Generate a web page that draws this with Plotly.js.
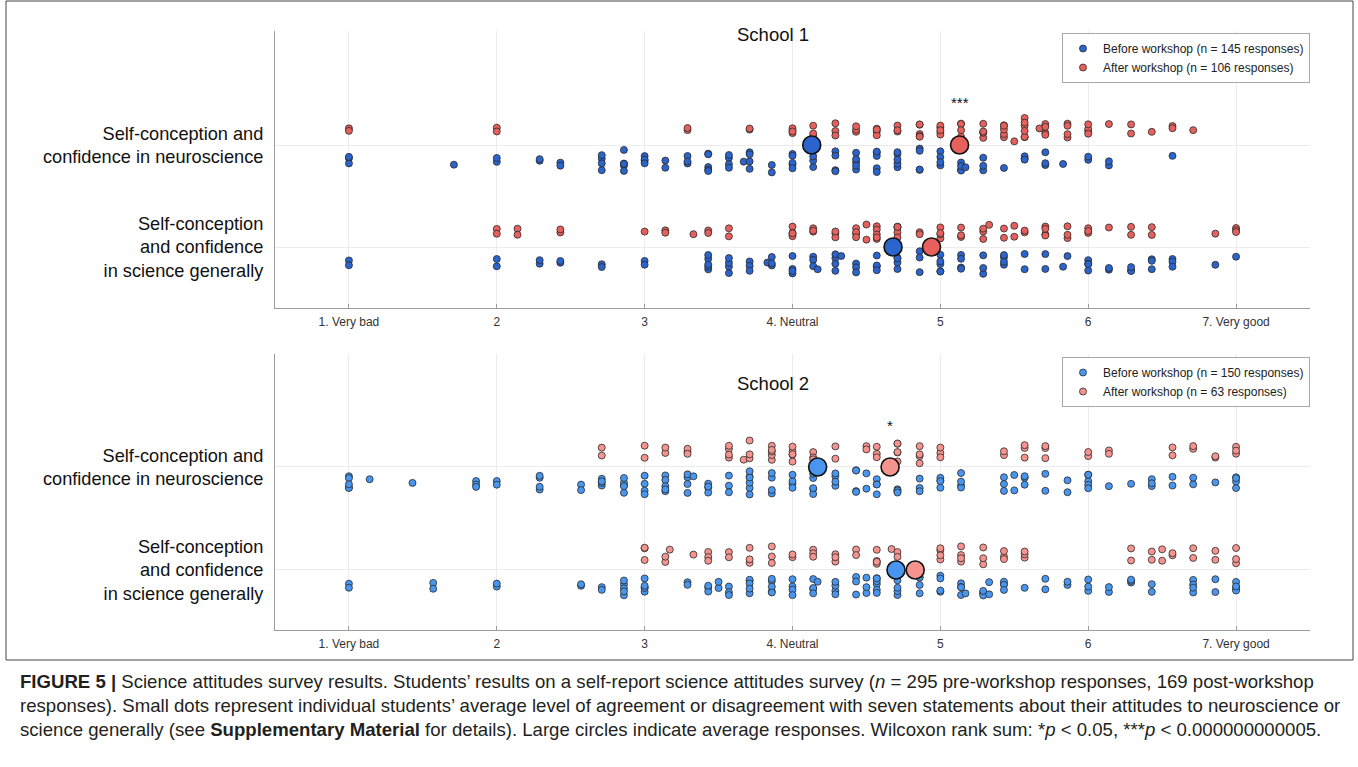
<!DOCTYPE html>
<html><head><meta charset="utf-8">
<script src="https://cdn.plot.ly/plotly-3.0.1.min.js"></script>
<style>html,body{margin:0;padding:0;background:#fff}#chart{width:1358px;height:767px}</style>
</head><body><div id="chart"></div>
<script>
// ---- axis labels ----
const tickVals = [1, 2, 3, 4, 5, 6, 7];
const tickText = ['1. Very bad', '2', '3', '4. Neutral', '5', '6', '7. Very good'];
const rowVals = [1, 2];
const rowText = ['Self-conception<br>and confidence<br>in science generally', 'Self-conception and<br>confidence in neuroscience'];
const schoolTitles = ['School 1', 'School 2'];
const beforeNames = ['Before workshop (n = 145 responses)', 'Before workshop (n = 150 responses)'];
const afterNames = ['After workshop (n = 106 responses)', 'After workshop (n = 63 responses)'];
const sigLabels = ['***', '*'];

// ---- School 1, neuroscience ----
const s1NeuroBeforeScores = [1, 1.71, 2, 2.29, 2.43, 2.71, 2.86, 3, 3.14, 3.29, 3.43, 3.57, 3.67, 3.71, 3.86, 4, 4.14, 4.29, 4.43, 4.57, 4.71, 4.86, 5, 5.14, 5.17, 5.29, 5.43, 5.57, 5.71, 5.83, 6, 6.14, 6.57];
const s1NeuroBeforeCounts = [3, 1, 2, 2, 2, 4, 5, 4, 2, 3, 5, 4, 1, 4, 2, 5, 3, 4, 5, 5, 5, 4, 4, 4, 1, 3, 1, 3, 3, 1, 2, 2, 1];
const s1NeuroAfterScores = [1, 2, 3.29, 3.71, 4, 4.14, 4.29, 4.43, 4.57, 4.71, 4.86, 5, 5.14, 5.29, 5.43, 5.5, 5.57, 5.67, 5.71, 5.86, 6, 6.14, 6.29, 6.43, 6.57, 6.71];
const s1NeuroAfterCounts = [2, 2, 2, 2, 4, 3, 3, 3, 4, 3, 5, 5, 4, 5, 5, 1, 6, 1, 4, 4, 4, 1, 2, 1, 2, 1];
// ---- School 1, science generally ----
const s1SciBeforeScores = [1, 2, 2.29, 2.43, 2.71, 3, 3.43, 3.57, 3.71, 3.83, 3.86, 4, 4.14, 4.17, 4.29, 4.33, 4.43, 4.57, 4.71, 4.86, 5, 5.14, 5.29, 5.43, 5.57, 5.71, 5.83, 5.86, 6, 6.14, 6.29, 6.43, 6.57, 6.86, 7];
const s1SciBeforeCounts = [2, 2, 2, 2, 2, 2, 5, 4, 3, 1, 3, 4, 3, 1, 4, 1, 3, 4, 4, 3, 5, 4, 3, 4, 2, 2, 1, 1, 4, 2, 3, 3, 3, 1, 1];
const s1SciAfterScores = [2, 2.14, 2.43, 3, 3.14, 3.33, 3.43, 3.57, 4, 4.14, 4.29, 4.43, 4.5, 4.57, 4.71, 4.86, 5, 5.14, 5.29, 5.33, 5.43, 5.5, 5.57, 5.71, 5.86, 6, 6.14, 6.29, 6.43, 6.86, 7];
const s1SciAfterCounts = [2, 2, 2, 1, 2, 1, 2, 2, 5, 3, 3, 4, 2, 5, 5, 2, 4, 3, 3, 1, 2, 2, 2, 4, 3, 3, 1, 2, 2, 1, 3];
// ---- School 2, neuroscience ----
const s2NeuroBeforeScores = [1, 1.14, 1.43, 1.86, 2, 2.29, 2.57, 2.71, 2.86, 3, 3.14, 3.29, 3.33, 3.43, 3.57, 3.71, 3.86, 4, 4.14, 4.29, 4.43, 4.5, 4.57, 4.71, 4.86, 5, 5.14, 5.43, 5.5, 5.57, 5.71, 5.86, 6, 6.14, 6.29, 6.43, 6.57, 6.71, 6.86, 7];
const s2NeuroBeforeCounts = [5, 1, 1, 3, 2, 4, 2, 4, 5, 4, 5, 4, 1, 4, 3, 6, 4, 4, 5, 4, 4, 2, 4, 4, 3, 4, 4, 3, 2, 3, 2, 2, 5, 1, 1, 3, 2, 2, 1, 4];
const s2NeuroAfterScores = [2.71, 3, 3.14, 3.29, 3.57, 3.67, 3.71, 3.86, 4, 4.14, 4.29, 4.5, 4.57, 4.71, 4.86, 5, 5.43, 5.57, 5.71, 6, 6.14, 6.57, 6.71, 6.86, 7];
const s2NeuroAfterCounts = [2, 2, 2, 3, 4, 1, 3, 5, 5, 3, 2, 2, 3, 5, 4, 3, 2, 3, 3, 2, 2, 2, 2, 2, 3];
// ---- School 2, science generally ----
const s2SciBeforeScores = [1, 1.57, 2, 2.57, 2.71, 2.86, 3, 3.29, 3.43, 3.5, 3.57, 3.71, 3.86, 4, 4.14, 4.17, 4.29, 4.43, 4.5, 4.57, 4.71, 4.86, 5, 5.14, 5.17, 5.29, 5.33, 5.43, 5.57, 5.71, 5.86, 6, 6.14, 6.29, 6.43, 6.71, 6.86, 7];
const s2SciBeforeCounts = [2, 2, 2, 2, 2, 5, 5, 2, 3, 2, 3, 5, 5, 4, 4, 1, 4, 3, 3, 6, 4, 4, 4, 4, 1, 4, 2, 4, 1, 2, 2, 3, 2, 3, 2, 4, 2, 5];
const s2SciAfterScores = [3, 3.14, 3.17, 3.33, 3.43, 3.57, 3.71, 3.86, 4, 4.14, 4.29, 4.43, 4.57, 4.67, 4.71, 5, 5.14, 5.29, 5.43, 5.57, 6.29, 6.43, 6.5, 6.57, 6.71, 6.86, 7];
const s2SciAfterCounts = [3, 2, 1, 1, 3, 2, 3, 3, 2, 3, 3, 2, 4, 1, 2, 4, 4, 3, 3, 3, 2, 2, 2, 2, 2, 2, 3];

// ---- averages [before, after] ----
const s1NeuroMeans = [4.13, 5.13];
const s1SciMeans = [4.68, 4.94];
const s2NeuroMeans = [4.17, 4.66];
const s2SciMeans = [4.70, 4.83];

// ---- colours ----
const blue1 = '#2b64cc', red1 = '#e6615d';
const blue2 = '#4896f0', red2 = '#f5938f';
const edge = '#2a2a2a';

function expand(scores, counts) {
  const out = [];
  scores.forEach((s, i) => { for (let j = 0; j < counts[i]; j++) out.push(s); });
  return out;
}

function dots(scores, counts, row, color, side, xa, ya) {
  return {
    type: 'box', orientation: 'h', x: expand(scores, counts), y0: row, width: 0.24,
    boxpoints: 'all', jitter: 1, pointpos: side * 1.27,
    fillcolor: 'rgba(0,0,0,0)', line: {color: 'rgba(0,0,0,0)', width: 0}, whiskerwidth: 0,
    marker: {color: color, size: 7, line: {color: edge, width: 0.8}},
    hoveron: 'points', showlegend: false, xaxis: xa, yaxis: ya
  };
}
function meanTrace(before, after, color, xa, ya) {
  return {
    type: 'scatter', mode: 'markers', x: [before, after], y: [2, 1], xaxis: xa, yaxis: ya, showlegend: false,
    marker: {color: color, size: 18, line: {color: '#111', width: 1.6}}
  };
}
function legendItem(name, color, leg) {
  const top = leg === 'legend';
  return {type: 'scatter', mode: 'markers', x: [null], y: [null], name: name, legend: leg,
    marker: {color: color, size: 7, line: {color: edge, width: 0.8}}, xaxis: top ? 'x' : 'x2', yaxis: top ? 'y' : 'y2'};
}

const data = [
  dots(s1NeuroBeforeScores, s1NeuroBeforeCounts, 2, blue1, -1, 'x', 'y'),
  dots(s1NeuroAfterScores, s1NeuroAfterCounts, 2, red1, 1, 'x', 'y'),
  dots(s1SciBeforeScores, s1SciBeforeCounts, 1, blue1, -1, 'x', 'y'),
  dots(s1SciAfterScores, s1SciAfterCounts, 1, red1, 1, 'x', 'y'),
  dots(s2NeuroBeforeScores, s2NeuroBeforeCounts, 2, blue2, -1, 'x2', 'y2'),
  dots(s2NeuroAfterScores, s2NeuroAfterCounts, 2, red2, 1, 'x2', 'y2'),
  dots(s2SciBeforeScores, s2SciBeforeCounts, 1, blue2, -1, 'x2', 'y2'),
  dots(s2SciAfterScores, s2SciAfterCounts, 1, red2, 1, 'x2', 'y2'),
  meanTrace(s1NeuroMeans[0], s1SciMeans[0], blue1, 'x', 'y'),
  meanTrace(s1NeuroMeans[1], s1SciMeans[1], red1, 'x', 'y'),
  meanTrace(s2NeuroMeans[0], s2SciMeans[0], blue2, 'x2', 'y2'),
  meanTrace(s2NeuroMeans[1], s2SciMeans[1], red2, 'x2', 'y2'),
  legendItem(beforeNames[0], blue1, 'legend'),
  legendItem(afterNames[0], red1, 'legend'),
  legendItem(beforeNames[1], blue2, 'legend2'),
  legendItem(afterNames[1], red2, 'legend2')
];

const W = 1358, H = 767;
const FONT = 'Liberation Sans, Arial, Helvetica, sans-serif';
function xAxis(anchor) {
  return {domain: [275 / W, 1310 / W], range: [0.5, 7.5], anchor: anchor,
    tickmode: 'array', tickvals: tickVals, ticktext: tickText,
    showgrid: true, gridcolor: '#ececec', gridwidth: 1, zeroline: false,
    showline: true, linecolor: '#9c9c9c', linewidth: 1,
    ticks: 'inside', ticklen: 4, tickcolor: '#9c9c9c', ticklabelstandoff: 3,
    tickfont: {size: 12, color: '#333', family: FONT}, fixedrange: true};
}
function yAxis(anchor, top, bottom, r0, r1) {
  return {domain: [1 - bottom / H, 1 - top / H], range: [r0, r1], anchor: anchor, type: 'linear',
    tickmode: 'array', tickvals: rowVals, ticktext: rowText,
    showgrid: true, gridcolor: '#ececec', gridwidth: 1, zeroline: false,
    showline: true, linecolor: '#9c9c9c', linewidth: 1, ticks: '', ticklabelstandoff: 7,
    tickfont: {size: 18.2, color: '#111', family: FONT}, fixedrange: true};
}
const legendStyle = (topPx) => ({x: 1062 / W, y: 1 - topPx / H, xanchor: 'left', yanchor: 'top',
  bordercolor: '#a8a8a8', borderwidth: 1, bgcolor: '#fff', font: {size: 12, color: '#222', family: FONT}});

const captionLines = [
  '<b>FIGURE 5 |</b> Science attitudes survey results. Students’ results on a self-report science attitudes survey (<i>n</i> = 295 pre-workshop responses, 169 post-workshop',
  'responses). Small dots represent individual students’ average level of agreement or disagreement with seven statements about their attitudes to neuroscience or',
  'science generally (see <b>Supplementary Material</b> for details). Large circles indicate average responses. Wilcoxon rank sum: *<i>p</i> &lt; 0.05, ***<i>p</i> &lt; 0.000000000005.'
];
const captionY = [681, 705, 729];

const annotations = [
  {text: schoolTitles[0], xref: 'paper', yref: 'paper', x: 773 / W, y: 1 - 34 / H, xanchor: 'center', yanchor: 'middle', showarrow: false, font: {size: 18.5, color: '#111', family: FONT}},
  {text: schoolTitles[1], xref: 'paper', yref: 'paper', x: 773 / W, y: 1 - 383 / H, xanchor: 'center', yanchor: 'middle', showarrow: false, font: {size: 18.5, color: '#111', family: FONT}},
  {text: sigLabels[0], xref: 'x', yref: 'y', x: s1NeuroMeans[1], y: 2.42, showarrow: false, font: {size: 15, color: '#111', family: FONT}},
  {text: sigLabels[1], xref: 'x2', yref: 'y2', x: s2NeuroMeans[1], y: 2.4, showarrow: false, font: {size: 15, color: '#111', family: FONT}}
];
captionLines.forEach((t, i) => annotations.push({text: t, xref: 'paper', yref: 'paper', x: 18 / W, y: 1 - captionY[i] / H,
  xanchor: 'left', yanchor: 'middle', align: 'left', showarrow: false, font: {size: 18.6, color: '#231f20', family: FONT}}));

const layout = {
  width: W, height: H, margin: {l: 0, r: 0, t: 0, b: 0},
  paper_bgcolor: '#fff', plot_bgcolor: '#fff', font: {family: FONT, color: '#222'},
  boxmode: 'overlay', hovermode: 'closest',
  xaxis: xAxis('y'), yaxis: yAxis('x', 31, 308, 0.402, 3.118),
  xaxis2: xAxis('y2'), yaxis2: yAxis('x2', 354, 630, 0.417, 3.097),
  legend: legendStyle(33), legend2: legendStyle(357),
  annotations: annotations,
  shapes: [{type: 'rect', xref: 'paper', yref: 'paper', x0: 6 / W, x1: 1353 / W, y0: 1 - 660 / H, y1: 1 - 1 / H, line: {color: '#444', width: 1}}]
};

Plotly.newPlot('chart', data, layout, {displayModeBar: false, staticPlot: true});
</script></body></html>
